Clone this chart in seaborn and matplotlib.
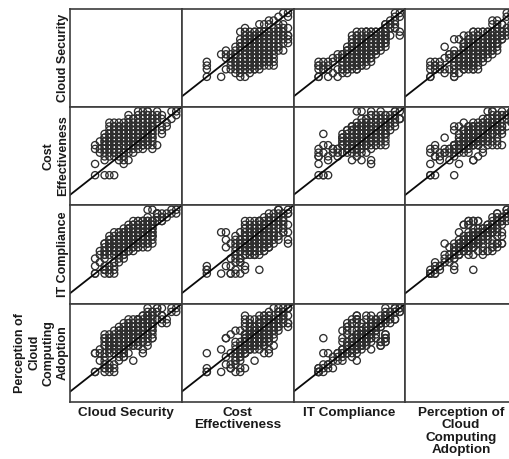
import pandas as pd
import matplotlib
matplotlib.use('Agg')
import matplotlib.pyplot as plt
import seaborn as sns

# one respondent per position, same order in all four lists
cloud_security = [
    2.4, 2.4, 2.4, 2.4, 2.4, 2.4,
    2.6, 2.6, 2.6, 2.6, 2.6, 2.6, 2.6,
    2.8, 2.8, 2.8, 2.8, 2.8, 2.8, 2.8,
    3.0, 3.0, 3.0, 3.0, 3.0, 3.0, 3.0,
    3.2, 3.2, 3.2, 3.2, 3.2, 3.2, 3.2,
    3.4, 3.4, 3.4, 3.4, 3.4, 3.4, 3.4,
    3.6, 3.6, 3.6, 3.6, 3.6, 3.6, 3.6,
    3.8, 3.8, 3.8, 3.8, 3.8, 3.8,
    4.0, 4.0, 4.0, 4.0, 4.0, 4.0,
    2.0, 2.0, 2.2, 2.2, 2.0, 2.2, 2.2, 2.4, 2.2, 2.4,
    5.0, 4.8, 5.0, 4.8, 4.2, 3.4, 3.6, 3.8, 4.0, 4.4,
    4.4, 4.6, 4.2, 4.2, 4.0, 3.8, 4.2, 4.0, 4.4, 3.8,
    3.6, 3.4, 3.2, 3.0, 4.2, 4.4, 4.0, 4.4, 4.6,
    1.6, 2.0, 2.2, 2.4, 1.6, 2.8, 1.6, 1.6, 1.8, 2.0,
    2.0, 2.0, 2.0, 2.2, 2.2, 2.4, 2.0, 2.4, 2.2, 2.4,
    2.6, 2.6, 2.8, 2.8, 2.8, 2.4, 3.2, 3.0, 3.2, 3.6,
    3.4, 3.6, 2.6, 2.8, 3.0, 2.6, 3.0,
    2.2, 2.2, 2.2, 2.2, 2.2,
    2.4, 2.4, 2.4, 2.4, 2.4,
    2.6, 2.6, 2.6, 2.6, 2.6, 2.6,
    2.8, 2.8, 2.8, 2.8, 2.8, 2.8,
    3.0, 3.0, 3.0, 3.0, 3.0, 3.0,
    3.2, 3.2, 3.2, 3.2, 3.2, 3.2,
    3.4, 3.4, 3.4, 3.4, 3.4, 3.4,
    3.6, 3.6, 3.6, 3.6, 3.6, 3.6,
    3.8, 3.8, 3.8, 3.8, 3.8, 3.8,
    4.0, 4.0, 4.0, 4.0, 4.0,
    3.2, 3.6, 3.8, 4.0, 3.4, 3.0, 3.8,
    2.0, 2.0, 2.0, 2.2, 2.2, 2.0, 2.4, 1.8, 1.8,
]
cost_effectiveness = [
    3.2, 3.4, 3.6, 3.8, 4.0, 4.2,
    3.2, 3.4, 3.6, 3.8, 4.0, 4.2, 4.4,
    3.2, 3.4, 3.6, 3.8, 4.0, 4.2, 4.4,
    3.2, 3.4, 3.6, 3.8, 4.0, 4.2, 4.4,
    3.2, 3.4, 3.6, 3.8, 4.0, 4.2, 4.4,
    3.2, 3.4, 3.6, 3.8, 4.0, 4.2, 4.4,
    3.2, 3.4, 3.6, 3.8, 4.0, 4.2, 4.4,
    3.4, 3.6, 3.8, 4.0, 4.2, 4.4,
    3.4, 3.6, 3.8, 4.0, 4.2, 4.4,
    3.0, 2.8, 3.4, 3.2, 3.0, 3.6, 3.8, 3.6, 4.0, 4.0,
    5.0, 5.0, 4.8, 4.6, 5.0, 5.0, 5.0, 5.0, 4.8, 4.2,
    4.6, 4.4, 4.6, 4.8, 4.6, 4.6, 4.4, 4.2, 4.8, 4.8,
    4.6, 4.8, 4.6, 4.6, 3.2, 3.8, 3.0, 4.0, 4.2,
    1.6, 1.6, 1.6, 1.6, 2.2, 2.2, 3.0, 3.2, 2.8, 2.6,
    2.4, 3.6, 3.2, 3.0, 2.6, 2.8, 3.8, 2.6, 2.8, 3.0,
    3.0, 2.8, 2.6, 2.4, 2.8, 2.8, 2.8, 3.0, 3.0, 3.2,
    3.0, 3.0, 2.6, 2.8, 2.4, 2.4, 2.8,
    3.4, 3.6, 3.8, 4.2, 4.4,
    3.2, 3.4, 3.8, 4.2, 4.4,
    3.2, 3.4, 3.6, 3.8, 4.0, 4.2,
    3.2, 3.4, 3.6, 3.8, 4.0, 4.2,
    3.2, 3.4, 3.6, 3.8, 4.0, 4.2,
    3.2, 3.4, 3.6, 3.8, 4.0, 4.2,
    3.2, 3.4, 3.6, 3.8, 4.0, 4.2,
    3.2, 3.4, 3.6, 3.8, 4.0, 4.2,
    3.2, 3.4, 3.6, 3.8, 4.0, 4.2,
    3.2, 3.6, 3.8, 4.0, 4.2,
    4.6, 4.8, 5.0, 4.6, 4.6, 4.8, 4.8,
    3.4, 3.6, 3.2, 3.0, 3.2, 3.4, 3.0, 3.0, 3.4,
]
it_compliance = [
    2.8, 3.0, 2.8, 3.2, 3.0, 3.4,
    2.6, 3.0, 3.2, 3.4, 3.2, 3.6, 3.4,
    3.0, 2.8, 3.4, 3.2, 3.6, 3.4, 3.8,
    3.2, 3.4, 3.0, 3.6, 3.4, 3.8, 3.6,
    3.0, 3.6, 3.4, 3.8, 3.6, 4.0, 3.8,
    3.4, 3.2, 3.8, 3.6, 4.0, 3.8, 4.2,
    3.6, 3.8, 3.6, 4.0, 3.8, 4.2, 4.0,
    3.8, 4.0, 3.8, 4.2, 4.0, 4.4,
    4.0, 3.8, 4.2, 4.0, 4.4, 4.2,
    3.2, 2.8, 3.0, 2.6, 2.4, 3.4, 3.2, 2.6, 3.0, 3.6,
    5.0, 4.8, 4.8, 5.0, 4.8, 3.4, 3.8, 4.2, 4.4, 4.6,
    4.8, 4.6, 4.6, 4.8, 5.0, 5.0, 4.8, 4.4, 4.4, 4.6,
    4.4, 4.2, 4.2, 4.0, 4.4, 4.4, 3.8, 4.6, 4.8,
    1.6, 1.8, 2.0, 1.8, 1.6, 3.8, 2.4, 2.0, 2.2, 1.6,
    2.0, 2.6, 1.8, 1.6, 1.6, 1.6, 1.8, 2.0, 1.8, 2.2,
    2.2, 2.4, 2.4, 3.0, 2.6, 3.0, 3.4, 2.8, 3.2, 3.2,
    3.0, 3.4, 3.2, 3.2, 3.4, 3.8, 3.6,
    3.2, 2.8, 3.4, 3.0, 3.6,
    3.4, 2.6, 3.8, 3.0, 3.2,
    3.6, 2.8, 3.8, 2.6, 2.8, 3.2,
    3.6, 3.8, 2.6, 4.0, 2.8, 3.0,
    3.8, 2.8, 4.0, 2.8, 4.2, 3.2,
    4.0, 2.8, 4.2, 3.2, 3.0, 4.4,
    4.0, 4.2, 3.0, 4.4, 3.2, 4.4,
    4.2, 3.0, 4.4, 3.2, 4.4, 3.4,
    3.0, 4.4, 3.4, 4.4, 3.2, 3.6,
    3.6, 3.2, 4.4, 3.4, 3.6,
    3.4, 3.8, 3.2, 3.6, 3.6, 4.0, 3.8,
    3.0, 3.2, 2.6, 3.2, 3.0, 2.8, 3.2, 2.8, 2.6,
]
perception = [
    2.8, 3.0, 3.0, 3.2, 3.2, 3.4,
    2.6, 2.8, 3.0, 3.2, 3.4, 3.6, 3.8,
    2.8, 3.0, 3.4, 3.4, 3.4, 3.6, 3.8,
    3.0, 3.2, 3.2, 3.6, 3.6, 3.8, 3.6,
    3.2, 3.4, 3.6, 3.8, 3.8, 4.0, 4.0,
    3.2, 3.4, 3.6, 3.8, 3.8, 4.2, 4.0,
    3.4, 3.8, 4.0, 3.8, 4.0, 4.2, 4.2,
    3.6, 4.0, 4.2, 4.0, 4.4, 4.4,
    4.0, 3.8, 4.2, 4.4, 4.6, 4.2,
    3.0, 2.6, 2.8, 2.6, 2.4, 3.0, 3.2, 2.8, 3.0, 3.2,
    5.0, 5.0, 4.8, 4.8, 5.0, 4.0, 4.2, 4.6, 4.6, 4.6,
    4.4, 4.2, 4.4, 4.8, 4.8, 5.0, 5.0, 4.8, 5.0, 4.8,
    4.6, 4.4, 4.2, 4.0, 4.4, 4.2, 3.8, 4.6, 4.4,
    1.6, 1.6, 1.8, 2.6, 1.6, 2.8, 2.6, 2.6, 2.2, 1.8,
    2.0, 2.2, 1.8, 1.6, 1.8, 1.6, 3.4, 2.0, 2.0, 1.8,
    2.4, 2.2, 2.6, 2.4, 2.4, 2.8, 3.0, 2.6, 2.2, 2.6,
    3.0, 2.8, 3.6, 3.8, 3.4, 3.4, 3.2,
    3.6, 3.2, 3.0, 2.6, 3.4,
    3.6, 3.4, 3.4, 3.8, 3.0,
    3.0, 3.6, 3.8, 2.8, 4.0, 2.8,
    3.6, 3.2, 3.8, 4.0, 2.6, 4.2,
    4.0, 3.8, 3.4, 4.2, 3.0, 4.4,
    3.6, 4.0, 3.2, 4.4, 3.0, 3.4,
    4.2, 3.0, 4.4, 3.4, 4.4, 3.2,
    3.2, 4.2, 3.6, 4.6, 3.2, 3.6,
    3.4, 4.4, 3.0, 3.6, 4.6, 3.2,
    4.6, 3.6, 3.4, 4.2, 3.4,
    3.8, 4.4, 4.2, 4.0, 4.4, 4.2, 4.6,
    3.4, 3.6, 3.2, 2.8, 3.4, 3.0, 3.2, 2.6, 2.8,
]

variable_names = [
    'Cloud Security',
    'Cost\nEffectiveness',
    'IT Compliance',
    'Perception of\nCloud\nComputing\nAdoption',
]

df = pd.DataFrame({
    variable_names[0]: cloud_security,
    variable_names[1]: cost_effectiveness,
    variable_names[2]: it_compliance,
    variable_names[3]: perception,
})

plt.rcParams['font.family'] = ['Liberation Sans', 'DejaVu Sans']

g = sns.PairGrid(df, height=1.2, despine=False)
g.map_offdiag(sns.scatterplot, marker='o', s=27, facecolor='none',
              edgecolor='#2e2e2e', linewidth=0.95)

g.figure.set_size_inches(5.09, 4.59)
g.figure.set_dpi(100)
# last column runs past the edge of the picture, as in the original
g.figure.subplots_adjust(left=70 / 509, right=517 / 509,
                         top=1 - 8.5 / 459, bottom=1 - 402 / 459,
                         wspace=0, hspace=0)

n = len(variable_names)
for i in range(n):
    for j in range(n):
        ax = g.axes[i, j]
        ax.set_xlim(0.55, 5.23)
        ax.set_ylim(0.0, 5.24)
        ax.tick_params(length=0, labelbottom=False, labelleft=False)
        for side in ax.spines.values():
            side.set_color('#3c3c3c')
            side.set_linewidth(1.2)
        ax.set_xlabel('')
        ax.set_ylabel('')
        if i != j:
            ax.axline((1, 1), slope=1, color='#0a0a0a', linewidth=1.3)

for k, name in enumerate(variable_names):
    g.axes[n - 1, k].set_xlabel(name, fontsize=9.7, fontweight='bold',
                                color='#1a1a1a', linespacing=1.04, labelpad=3.5)
    g.axes[k, 0].set_ylabel(name, fontsize=9, fontweight='bold',
                            color='#1a1a1a', linespacing=1.25)
    g.axes[k, 0].yaxis.set_label_coords(-0.008, 0.5)

g.figure.savefig('out.png', dpi=100)
